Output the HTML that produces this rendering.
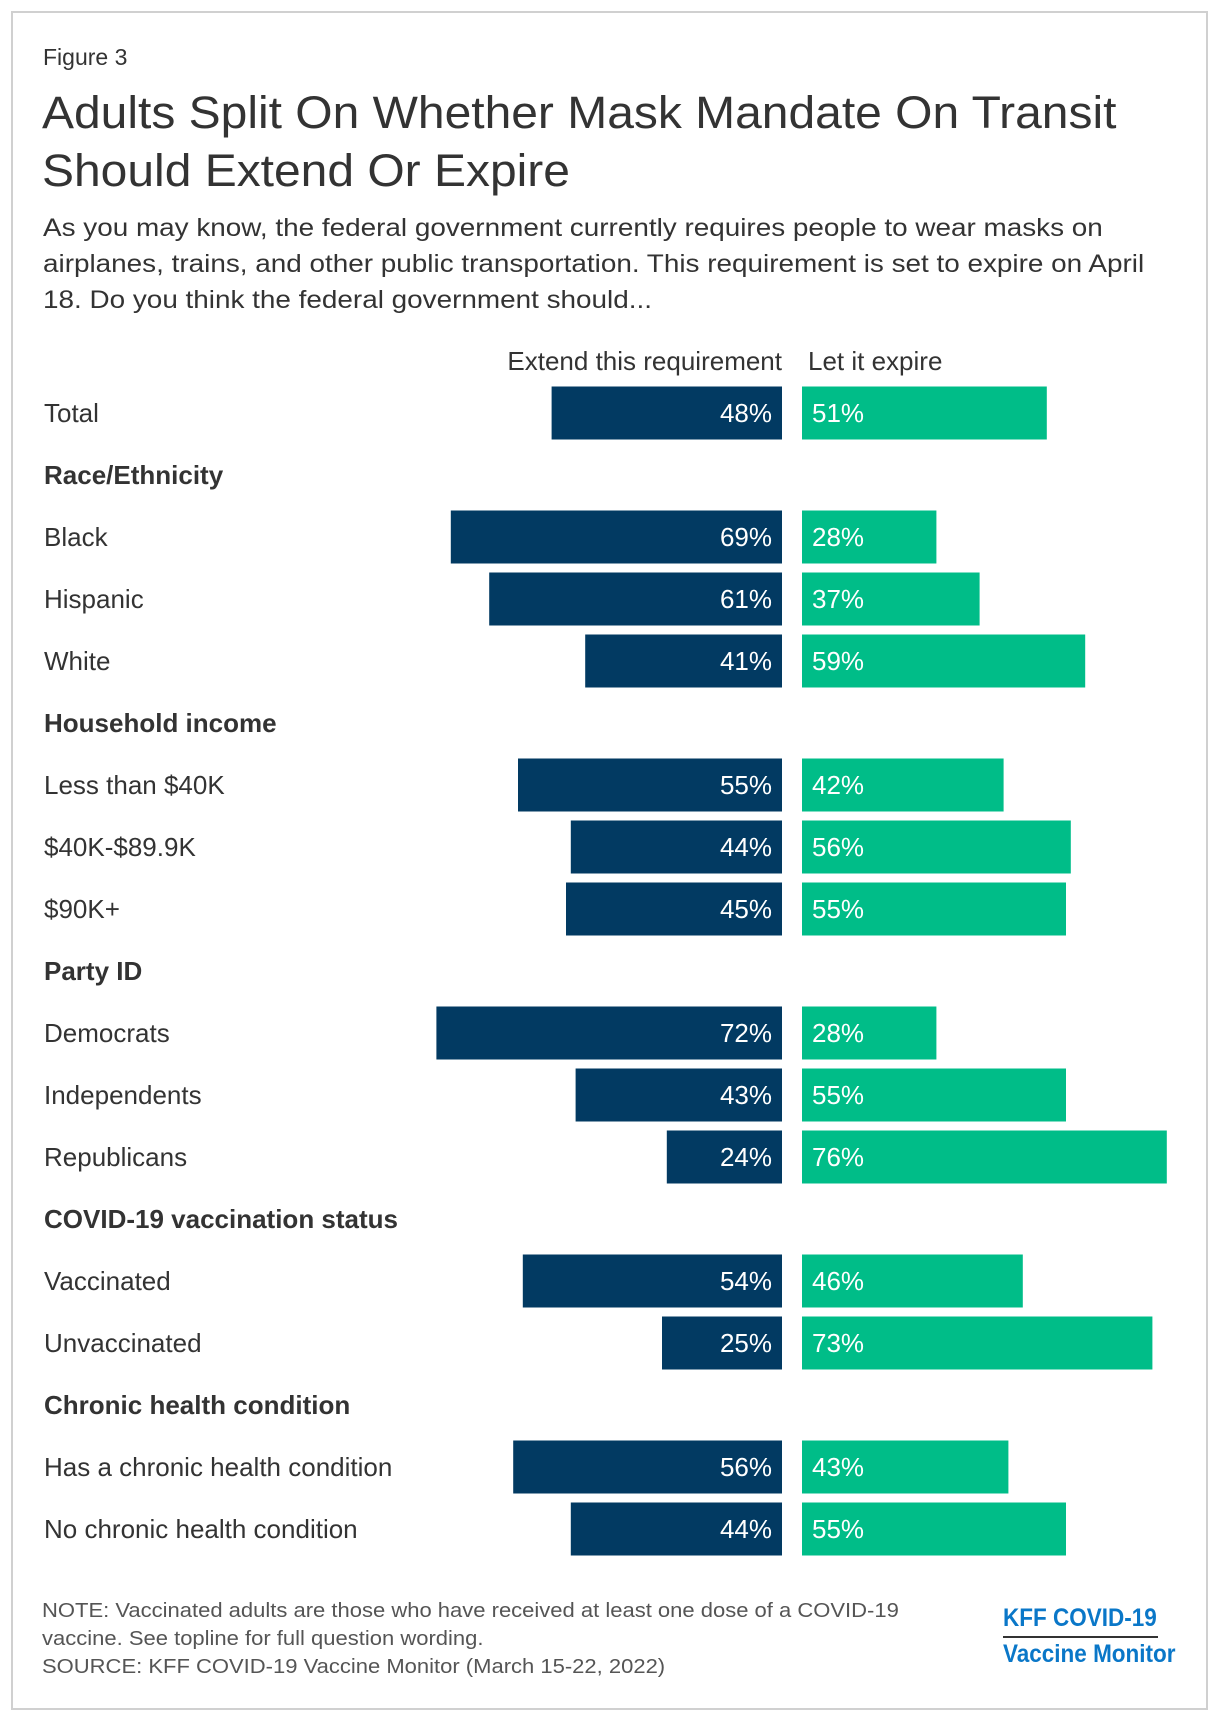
<!DOCTYPE html>
<html><head><meta charset="utf-8">
<style>
html,body{margin:0;padding:0;background:#fff;}
body{width:1220px;height:1724px;position:relative;font-family:"Liberation Sans",Arial,sans-serif;color:#333;overflow:hidden;}
.frame{position:absolute;left:11px;top:11px;width:1197px;height:1699px;border:2px solid #d0d0d0;box-sizing:border-box;}
.t{position:absolute;white-space:nowrap;transform-origin:0 0;}
</style></head>
<body>
<div class="frame"></div>
<div class="t" style="left:43px;top:44px;font-size:23px;color:#333;">Figure 3</div>
<div class="t" style="left:42px;top:84px;font-size:45px;line-height:58px;color:#333;transform:scaleX(1.066);">Adults Split On Whether Mask Mandate On Transit<br>Should Extend Or Expire</div>
<div class="t" style="left:43px;top:210px;font-size:25px;line-height:36px;color:#333;transform:scaleX(1.115);">As you may know, the federal government currently requires people to wear masks on<br>airplanes, trains, and other public transportation. This requirement is set to expire on April<br>18. Do you think the federal government should...</div>
<svg id="chart" width="1220" height="1724" style="position:absolute;left:0;top:0;"></svg>
<div class="t" style="left:42px;top:1597px;font-size:20px;line-height:28px;color:#555;transform:scaleX(1.1);">NOTE: Vaccinated adults are those who have received at least one dose of a COVID-19<br>vaccine. See topline for full question wording.<br>SOURCE: KFF COVID-19 Vaccine Monitor (March 15-22, 2022)</div>
<div class="t" style="left:1003px;top:1604px;font-size:25px;font-weight:bold;color:#0a77c8;transform:scaleX(0.9);">KFF COVID-19</div>
<div style="position:absolute;left:1003px;top:1636px;width:155px;height:2px;background:#333;"></div>
<div class="t" style="left:1003px;top:1640px;font-size:25px;font-weight:bold;color:#0a77c8;transform:scaleX(0.9);">Vaccine Monitor</div>
<script>
const labels=["Total","Race/Ethnicity","Black","Hispanic","White","Household income","Less than $40K","$40K-$89.9K","$90K+","Party ID","Democrats","Independents","Republicans","COVID-19 vaccination status","Vaccinated","Unvaccinated","Chronic health condition","Has a chronic health condition","No chronic health condition"];
const isHeader=[0,1,0,0,0,1,0,0,0,1,0,0,0,1,0,0,1,0,0];
const extendVals=[48,null,69,61,41,null,55,44,45,null,72,43,24,null,54,25,null,56,44];
const expireVals=[51,null,28,37,59,null,42,56,55,null,28,55,76,null,46,73,null,43,55];
const seriesNames=["Extend this requirement","Let it expire"];

const svg=document.getElementById('chart');
const NS='http://www.w3.org/2000/svg';
const pxPerPct=4.8, navyRight=782, greenLeft=802, row0=413, rowStep=62, barH=53;
const xL=v=>navyRight-v*pxPerPct;
const xR=v=>greenLeft+v*pxPerPct;
const yC=i=>row0+i*rowStep;
const FF='Liberation Sans, sans-serif';
function mk(tag,attrs,text){const e=document.createElementNS(NS,tag);for(const k in attrs)e.setAttribute(k,attrs[k]);if(text!=null)e.textContent=text;svg.appendChild(e);return e;}
let h1=mk('text',{x:navyRight,y:370,'text-anchor':'end','font-size':26,fill:'#333','font-family':FF},seriesNames[0]);


let h2=mk('text',{x:greenLeft+6,y:370,'font-size':26,fill:'#333','font-family':FF},seriesNames[1]);


labels.forEach((lab,i)=>{
  const y=yC(i);
  const t=mk('text',{x:44,y:y+9,'font-size':26,'font-weight':isHeader[i]?'bold':'normal',fill:'#333','font-family':FF},lab);
  
  
  if(extendVals[i]!=null){
    const b=mk('rect',{x:xL(extendVals[i]),y:y-barH/2,width:navyRight-xL(extendVals[i]),height:barH,fill:'#023a62'});
    
    
    const v=mk('text',{x:navyRight-10,y:y+9,'text-anchor':'end','font-size':26,fill:'#fff','font-family':FF},extendVals[i]+'%');
    
    
  }
  if(expireVals[i]!=null){
    const b=mk('rect',{x:greenLeft,y:y-barH/2,width:xR(expireVals[i])-greenLeft,height:barH,fill:'#00bd88'});
    
    
    const v=mk('text',{x:greenLeft+10,y:y+9,'font-size':26,fill:'#fff','font-family':FF},expireVals[i]+'%');
    
    
  }
});
</script>
</body></html>
